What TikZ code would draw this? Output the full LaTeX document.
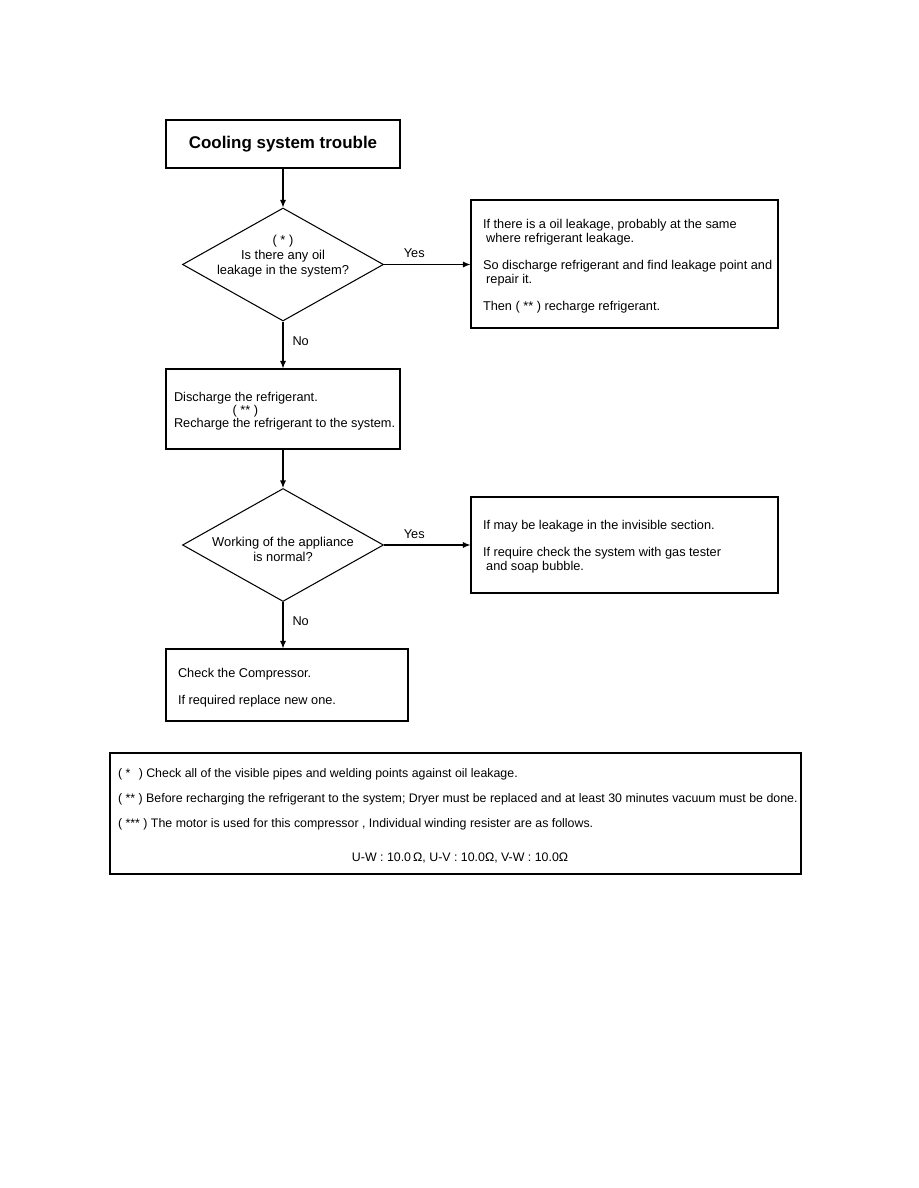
\documentclass[tikz,border=0pt]{standalone}
\usepackage{fontspec}
\setmainfont{Liberation Sans}
\usetikzlibrary{shapes.geometric,arrows.meta}

\begin{document}
\begin{tikzpicture}[x=0.6667pt, y=-0.6667pt,
    font=\fontsize{8.5}{9.4}\selectfont,
    line width=0.7pt,
    box/.style={draw, rectangle, inner sep=0pt},
    txt/.style={anchor=west, align=left, inner sep=0pt, yshift=-1.4pt},
    decision/.style={draw, diamond, inner sep=0pt, minimum width=201*0.6667pt, minimum height=113*0.6667pt},
    arr/.style={-{Latex[length=5pt,width=4pt]}},
    lbl/.style={inner sep=1pt}]

\def\px{0.6667pt}
\def\gap{\\[8.6pt]}

% page frame
\useasboundingbox (0,0) rectangle (918,1188);

% title
\node[box, font=\fontsize{11.3}{13}\selectfont\bfseries,
    minimum width=234*\px, minimum height=48*\px] (title) at (283,144)
    {Cooling system trouble};

% first question
\node[decision] (q1) at (283,264.5) {};
\node[align=center, lbl, font=\fontsize{8.6}{10}\selectfont] (q1txt) at (283,256.5)
    {( * )\\Is there any oil\\leakage in the system?};

\node[box, minimum width=307*\px, minimum height=128*\px] (leak) at (624.5,264) {};
\node[txt] (leaktxt) at ([xshift=12*\px]leak.west)
    {If there is a oil leakage, probably at the same\\
     \hspace*{0.25em}where refrigerant leakage.\gap
     So discharge refrigerant and find leakage point and\\
     \hspace*{0.25em}repair it.\gap
     Then ( ** ) recharge refrigerant.};

\node[box, minimum width=234*\px, minimum height=80*\px] (recharge) at (283,409) {};
\node[txt] (rechargetxt) at ([xshift=8*\px]recharge.west)
    {Discharge the refrigerant.\\[-0.6pt]
     \hspace*{4.6em}( ** )\\[-0.6pt]
     Recharge the refrigerant to the system.};

% second question
\node[decision] (q2) at (283,545) {};
\node[align=center, lbl, font=\fontsize{8.6}{10.4}\selectfont] (q2txt) at (283,549.5)
    {Working of the appliance\\is normal?};

\node[box, minimum width=307*\px, minimum height=96*\px] (gas) at (624.5,545) {};
\node[txt] (gastxt) at ([xshift=12*\px]gas.west)
    {If may be leakage in the invisible section.\gap
     If require check the system with gas tester\\
     \hspace*{0.25em}and soap bubble.};

\node[box, minimum width=242*\px, minimum height=72*\px] (comp) at (287,685) {};
\node[txt] (comptxt) at ([xshift=12*\px,yshift=-0.6pt]comp.west)
    {Check the Compressor.\gap
     If required replace new one.};

% notes
\node[box, minimum width=691*\px, minimum height=121*\px] (notes) at (455.5,813.5) {};
\node[txt, font=\fontsize{8.25}{9.6}\selectfont] (notestxt) at ([xshift=8*\px,yshift=0.1pt]notes.west)
    {( *\hspace{0.4em} ) Check all of the visible pipes and welding points against oil leakage.\\[7.2pt]
     ( ** ) Before recharging the refrigerant to the system; Dryer must be replaced and at least 30 minutes vacuum must be done.\\[7.2pt]
     ( *** ) The motor is used for this compressor , Individual winding resister are as follows.\\[12.8pt]
     \hspace*{156pt}U-W : 10.0\,Ω, U-V : 10.0Ω, V-W : 10.0Ω};

% connectors
\draw[arr] (title) -- (q1);
\draw[arr] (q1.east) -- node[lbl, pos=0.35, above=3pt] (y1) {Yes} (leak.west |- q1.east);
\draw[arr] (q1.south) -- node[lbl, pos=0.42, right=5pt] (n1) {No} (recharge.north -| q1.south);
\draw[arr] (recharge.south -| q2.north) -- (q2.north);
\draw[arr] (q2.east) -- node[lbl, pos=0.35, above=3pt] (y2) {Yes} (gas.west |- q2.east);
\draw[arr] (q2.south) -- node[lbl, pos=0.42, right=5pt] (n2) {No} (comp.north -| q2.south);

\end{tikzpicture}
\end{document}
